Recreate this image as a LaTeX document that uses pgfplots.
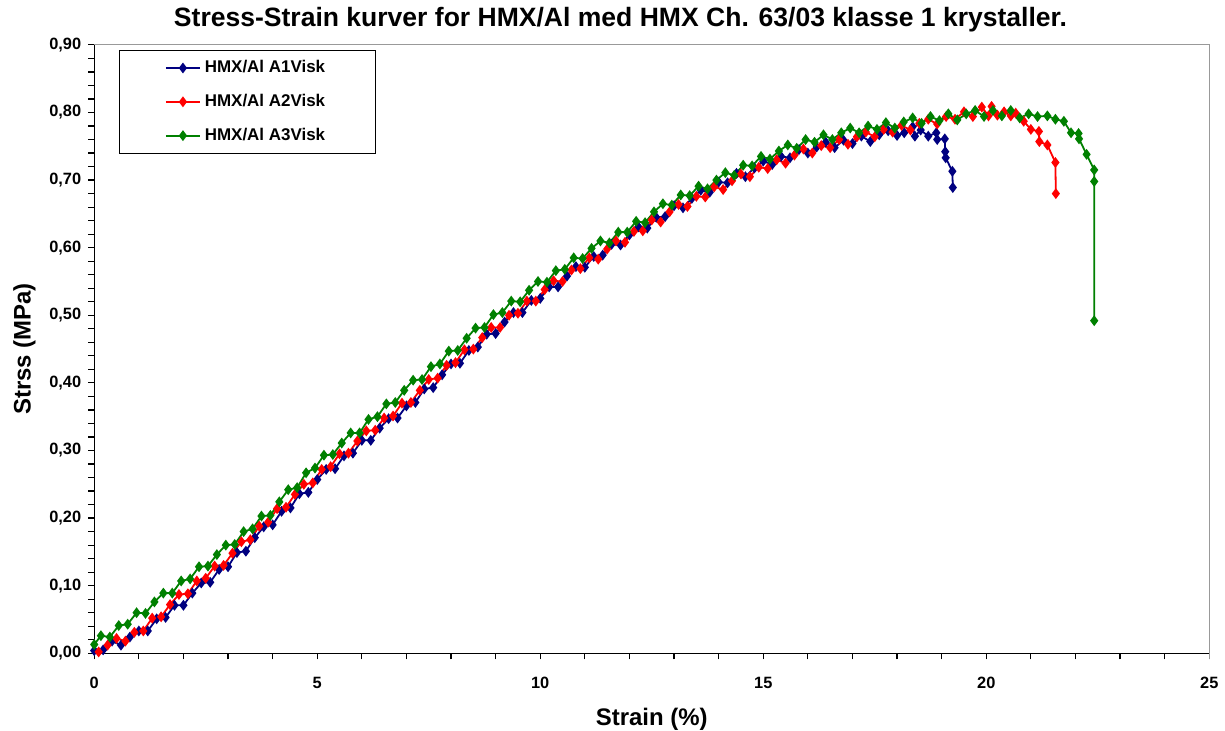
\documentclass[border=0pt]{standalone}
\usepackage{fontspec}
\setmainfont{Liberation Sans}
\usepackage{pgfplots}
\pgfplotsset{compat=1.18}
\definecolor{cblue}{RGB}{0,0,128}
\definecolor{cred}{RGB}{255,0,0}
\definecolor{cgreen}{RGB}{0,128,0}
\begin{document}
\begin{tikzpicture}
\begin{axis}[
  scale only axis, width=559pt, height=305pt,
  xmin=0, xmax=25, ymin=0, ymax=0.9,
  xtick={0,5,...,25}, ytick={0,0.1,...,0.9},
  minor x tick num=4, minor y tick num=4,
  axis x line*=bottom, axis y line*=left,
  axis line style={-, line width=0.7pt, black},
  tick align=outside, major tick length=3pt, minor tick length=3pt,
  tick style={black, line width=0.6pt},
  /pgf/number format/assume math mode=true,
  tick label style={font=\bfseries\fontsize{8.2}{10}\selectfont},
  yticklabel style={/pgf/number format/.cd, fixed, fixed zerofill, precision=2, use comma},
  xticklabel style={yshift=-5.5pt},
  every axis x label/.style={at={(axis description cs:0.5,-0.108)}, anchor=center, inner sep=0pt},
  every axis y label/.style={at={(axis description cs:-0.0626,0.5)}, rotate=90, anchor=center, inner sep=0pt},
  label style={font=\bfseries\fontsize{12}{14}\selectfont},
  xlabel={Strain (\%)}, ylabel={Strss (MPa)},
  title={Stress-Strain kurver for HMX/Al med HMX Ch. 63/03 klasse 1 krystaller.},
  every axis title/.style={at={(axis description cs:0.472,1.041)}, anchor=center, inner sep=0pt, font=\bfseries\fontsize{13.3}{15}\selectfont},
  legend style={at={(axis description cs:0.0219,0.9918)}, anchor=north west, draw=black, line width=0.5pt,
    inner xsep=23pt, inner ysep=3pt, row sep=5.3pt, font=\bfseries\fontsize{8.5}{10}\selectfont},
  legend cell align=left,
  every axis plot/.append style={line width=0.9pt, mark=diamond*, mark size=2pt},
]
\addplot[cblue, mark options={fill=cblue}] coordinates {
(0,0.004)(0.2,0.005)(0.4,0.018)(0.6,0.012)(0.8,0.024)(1.0,0.033)(1.2,0.033)(1.4,0.051)(1.6,0.053)(1.8,0.071)
(2.0,0.071)(2.2,0.089)(2.4,0.104)(2.6,0.105)(2.8,0.124)(3.0,0.128)(3.2,0.149)(3.4,0.151)(3.6,0.171)(3.8,0.187)
(4.0,0.190)(4.2,0.210)(4.4,0.215)(4.6,0.236)(4.8,0.238)(5.0,0.257)(5.2,0.272)(5.4,0.273)(5.6,0.292)(5.8,0.296)
(6.0,0.315)(6.2,0.315)(6.4,0.333)(6.6,0.347)(6.8,0.348)(7.0,0.366)(7.2,0.371)(7.4,0.391)(7.6,0.393)(7.8,0.412)
(8.0,0.428)(8.2,0.429)(8.4,0.448)(8.6,0.453)(8.8,0.472)(9.0,0.473)(9.2,0.490)(9.4,0.504)(9.6,0.504)(9.8,0.522)
(10.0,0.525)(10.2,0.542)(10.4,0.542)(10.6,0.558)(10.8,0.572)(11.0,0.571)(11.2,0.587)(11.4,0.589)(11.6,0.605)(11.8,0.604)
(12.0,0.619)(12.2,0.631)(12.4,0.629)(12.6,0.645)(12.8,0.646)(13.0,0.662)(13.2,0.659)(13.4,0.673)(13.6,0.685)(13.8,0.682)
(14.0,0.697)(14.2,0.696)(14.4,0.710)(14.6,0.705)(14.8,0.718)(15.0,0.728)(15.2,0.723)(15.4,0.735)(15.6,0.733)(15.8,0.745)
(16.0,0.740)(16.2,0.749)(16.4,0.756)(16.6,0.748)(16.8,0.759)(17.0,0.754)(17.2,0.765)(17.4,0.757)(17.6,0.767)(17.8,0.773)
(18.0,0.766)(18.16,0.770)(18.35,0.779)(18.40,0.765)(18.53,0.774)(18.70,0.765)(18.88,0.770)(18.90,0.760)(19.07,0.761)(19.08,0.742)
(19.09,0.733)(19.24,0.713)(19.25,0.689)
};
\addlegendentry{HMX/Al A1Visk}
\addplot[cred, mark options={fill=cred}] coordinates {
(0.1,0.002)(0.3,0.012)(0.5,0.022)(0.7,0.018)(0.9,0.031)(1.1,0.033)(1.3,0.052)(1.5,0.054)(1.7,0.072)(1.9,0.087)
(2.1,0.088)(2.3,0.107)(2.5,0.111)(2.7,0.129)(2.9,0.130)(3.1,0.148)(3.3,0.165)(3.5,0.168)(3.7,0.188)(3.9,0.194)
(4.1,0.214)(4.3,0.216)(4.5,0.235)(4.7,0.250)(4.9,0.252)(5.1,0.272)(5.3,0.276)(5.5,0.295)(5.7,0.296)(5.9,0.314)
(6.1,0.329)(6.3,0.330)(6.5,0.348)(6.7,0.351)(6.9,0.370)(7.1,0.371)(7.3,0.389)(7.5,0.405)(7.7,0.407)(7.9,0.426)
(8.1,0.430)(8.3,0.449)(8.5,0.450)(8.7,0.467)(8.9,0.482)(9.1,0.482)(9.3,0.500)(9.5,0.503)(9.7,0.521)(9.9,0.521)
(10.1,0.538)(10.3,0.551)(10.5,0.550)(10.7,0.567)(10.9,0.569)(11.1,0.585)(11.3,0.583)(11.5,0.598)(11.7,0.610)(11.9,0.608)
(12.1,0.624)(12.3,0.625)(12.5,0.641)(12.7,0.638)(12.9,0.653)(13.1,0.664)(13.3,0.661)(13.5,0.676)(13.7,0.675)(13.9,0.690)
(14.1,0.686)(14.3,0.699)(14.5,0.709)(14.7,0.705)(14.9,0.719)(15.1,0.717)(15.3,0.730)(15.5,0.725)(15.7,0.737)(15.9,0.746)
(16.1,0.740)(16.3,0.751)(16.5,0.748)(16.7,0.760)(16.9,0.753)(17.1,0.764)(17.3,0.771)(17.5,0.764)(17.7,0.775)(17.9,0.771)
(18.1,0.781)(18.3,0.774)(18.5,0.784)(18.7,0.790)(18.9,0.783)(19.1,0.794)(19.3,0.790)(19.5,0.801)(19.7,0.794)(19.9,0.808)
(20.05,0.795)(20.12,0.809)(20.25,0.796)(20.40,0.801)(20.55,0.795)(20.66,0.799)(20.84,0.787)(21.00,0.775)(21.18,0.772)(21.19,0.757)
(21.37,0.752)(21.55,0.726)(21.56,0.680)
};
\addlegendentry{HMX/Al A2Visk}
\addplot[cgreen, mark options={fill=cgreen}] coordinates {
(0.0,0.013)(0.15,0.026)(0.35,0.024)(0.55,0.041)(0.75,0.043)(0.95,0.060)(1.15,0.059)(1.35,0.076)(1.55,0.089)(1.75,0.089)(1.95,0.107)
(2.15,0.110)(2.35,0.128)(2.55,0.129)(2.75,0.146)(2.95,0.160)(3.15,0.161)(3.35,0.180)(3.55,0.184)(3.75,0.203)(3.95,0.204)
(4.15,0.224)(4.35,0.242)(4.55,0.245)(4.75,0.267)(4.95,0.274)(5.15,0.293)(5.35,0.294)(5.55,0.311)(5.75,0.326)(5.95,0.326)
(6.15,0.346)(6.35,0.350)(6.55,0.369)(6.75,0.371)(6.95,0.389)(7.15,0.404)(7.35,0.405)(7.55,0.424)(7.75,0.428)(7.95,0.447)
(8.15,0.448)(8.35,0.466)(8.55,0.481)(8.75,0.482)(8.95,0.501)(9.15,0.504)(9.35,0.521)(9.55,0.520)(9.75,0.537)(9.95,0.550)
(10.15,0.549)(10.35,0.566)(10.55,0.568)(10.75,0.585)(10.95,0.584)(11.15,0.599)(11.35,0.610)(11.55,0.607)(11.75,0.623)(11.95,0.623)
(12.15,0.639)(12.35,0.637)(12.55,0.653)(12.75,0.665)(12.95,0.663)(13.15,0.678)(13.35,0.677)(13.55,0.691)(13.75,0.687)(13.95,0.700)
(14.15,0.711)(14.35,0.707)(14.55,0.722)(14.75,0.721)(14.95,0.735)(15.15,0.731)(15.35,0.743)(15.55,0.752)(15.75,0.747)(15.95,0.760)
(16.15,0.756)(16.35,0.767)(16.55,0.760)(16.75,0.770)(16.95,0.777)(17.15,0.770)(17.35,0.780)(17.55,0.775)(17.75,0.785)(17.95,0.777)
(18.15,0.786)(18.35,0.792)(18.55,0.784)(18.75,0.794)(18.95,0.788)(19.15,0.798)(19.35,0.789)(19.55,0.798)(19.75,0.803)(19.95,0.794)
(20.15,0.803)(20.35,0.795)(20.55,0.803)(20.75,0.792)(20.95,0.798)(21.15,0.794)(21.37,0.795)(21.55,0.790)(21.74,0.787)(21.90,0.770)
(22.07,0.769)(22.08,0.761)(22.25,0.738)(22.42,0.715)(22.42,0.698)(22.42,0.492)
};
\addlegendentry{HMX/Al A3Visk}
\coordinate (bl) at (rel axis cs:-0.0845,-0.1213);
\coordinate (tr) at (rel axis cs:1.0112,1.0738);
\coordinate (c1) at (rel axis cs:0,1);
\coordinate (c2) at (rel axis cs:1,1);
\coordinate (c3) at (rel axis cs:1,0);
\end{axis}
\draw[gray!80, line width=0.6pt] (c1) -- (c2) -- ([yshift=-3pt]c3);
\path (bl) rectangle (tr);
\end{tikzpicture}
\end{document}
